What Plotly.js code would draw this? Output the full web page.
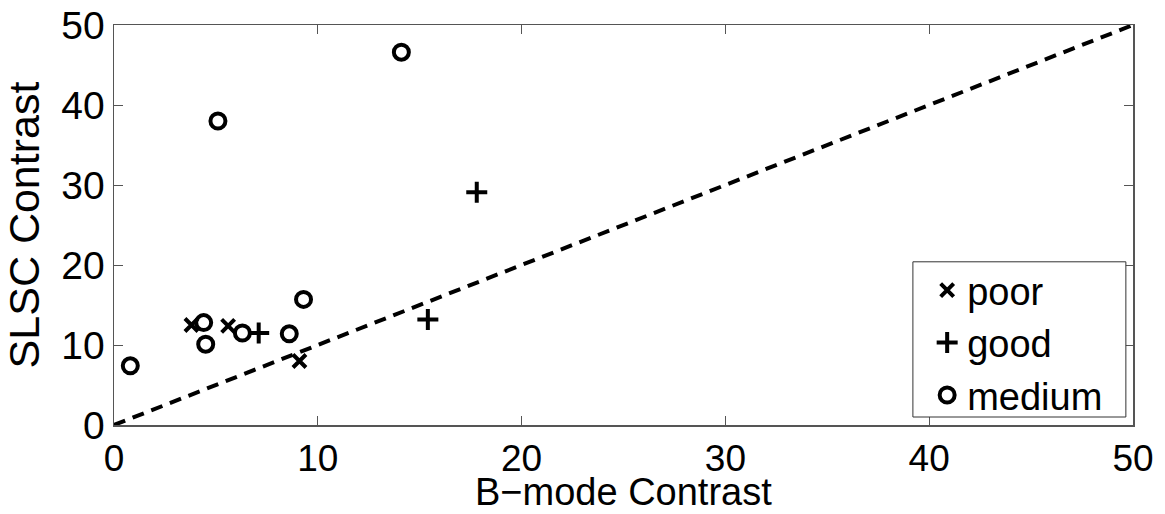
<!DOCTYPE html>
<html>
<head>
<meta charset="utf-8">
<script src="https://cdn.plot.ly/plotly-3.0.1.min.js"></script>
<style>html,body{margin:0;padding:0;background:#fff;}#chart{width:1165px;height:514px;}</style>
</head>
<body>
<div id="chart"></div>
<script>
// Data
var poorX = [3.8, 5.6, 9.1];
var poorY = [12.5, 12.4, 8.0];
var goodX = [7.1, 15.4, 17.8];
var goodY = [11.5, 13.2, 29.1];
var mediumX = [0.8, 4.4, 4.5, 6.3, 8.6, 9.3, 5.1, 14.1];
var mediumY = [7.4, 12.8, 10.1, 11.5, 11.4, 15.7, 38.0, 46.6];
var identityX = [0, 50];
var identityY = [0, 50];
var xTitle = 'B\u2212mode Contrast';
var yTitle = 'SLSC Contrast';

var font = "Liberation Sans";

var traces = [
  {x: identityX, y: identityY, mode: 'lines', showlegend: false, hoverinfo: 'skip',
   line: {color: '#000', width: 4, dash: '12px,8px'}},
  {x: poorX, y: poorY, mode: 'markers', name: 'poor',
   marker: {symbol: 'x-thin-open', size: 13, color: '#000', line: {color: '#000', width: 4}}},
  {x: goodX, y: goodY, mode: 'markers', name: 'good',
   marker: {symbol: 'cross-thin-open', size: 15, color: '#000', line: {color: '#000', width: 4}}},
  {x: mediumX, y: mediumY, mode: 'markers', name: 'medium',
   marker: {symbol: 'circle-open', size: 15, color: '#000', line: {color: '#000', width: 4}}}
];

var axisCommon = {
  range: [0, 50], dtick: 10, tick0: 0,
  showgrid: false, zeroline: false,
  showline: true, mirror: 'ticks', linecolor: '#555', linewidth: 1.5,
  ticks: 'inside', ticklen: 9, tickcolor: '#555', tickwidth: 1,
  tickfont: {family: font, size: 39, color: '#000'},
  automargin: false
};

var layout = {
  width: 1165, height: 514,
  margin: {l: 114, r: 32, t: 25, b: 89},
  paper_bgcolor: '#fff', plot_bgcolor: '#fff',
  showlegend: true,
  xaxis: Object.assign({}, axisCommon, {
    tickfont: {family: font, size: 37, color: '#000'}
  }),
  yaxis: Object.assign({}, axisCommon, {
    title: {text: yTitle, font: {family: font, size: 43, color: '#000'}}
  }),
  annotations: [{
    text: xTitle, xref: 'paper', yref: 'paper', x: 0.5, y: -0.222,
    xanchor: 'center', yanchor: 'bottom', showarrow: false, borderpad: 0,
    font: {family: font, size: 38, color: '#000'}
  }],
  shapes: [{
    type: 'rect', xref: 'paper', yref: 'paper',
    x0: 0.784, x1: 0.993, y0: 0.02, y1: 0.408,
    line: {color: '#333', width: 1}, fillcolor: '#fff', layer: 'above'
  }],
  legend: {
    x: 0.798, xanchor: 'left', y: 0.205, yanchor: 'middle',
    bgcolor: 'rgba(0,0,0,0)', bordercolor: 'rgba(0,0,0,0)', borderwidth: 0,
    font: {family: font, size: 38, color: '#000'},
    itemwidth: 30, tracegroupgap: 0
  }
};

Plotly.newPlot('chart', traces, layout, {displayModeBar: false, staticPlot: true});
</script>
</body>
</html>
